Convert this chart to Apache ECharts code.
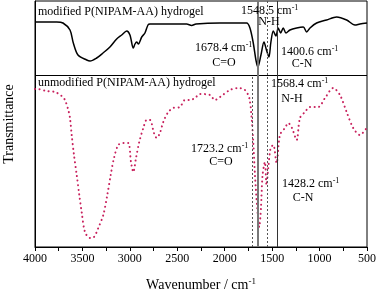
<!DOCTYPE html>
<html><head><meta charset="utf-8">
<script src="https://cdn.jsdelivr.net/npm/echarts@6/dist/echarts.min.js"></script>
<style>html,body{margin:0;padding:0;background:#fff}#c{width:380px;height:291px}</style>
</head><body><div id="c"></div>
<script>
// modified hydrogel (top spectrum): wavenumber / transmittance (arb.)
const wnTop = [4000,3771,3705,3631,3596,3547,3455,3420,3350,3283,3210,3139,3086,3033,2999,2964,2946,2928,2910,2875,2841,2809,2788,2600,2401,2349,2303,2050,1769,1734,1699,1671,1650,1618,1586,1560,1534,1513,1488,1460,1436,1410,1383,1354,1312,1242,1172,1136,1101,1031,926,820,715,627,575,500];
const tTop  = [225,225,224,217,204,192,187,186,189,194,200,208,212,216,212,199,203,205,203,210,214,222,223,223,223,221.5,223,224,224,219,204,187,180,192,205,197,190,205,216,211,219,214,219,214,217,219,220,215,219,224,227,230,227,222,223,224];
// unmodified hydrogel (bottom spectrum)
const wnBot = [4000,3982,3877,3789,3719,3684,3649,3631,3613,3589,3560,3533,3508,3473,3420,3378,3333,3280,3238,3202,3167,3122,3069,3017,2988,2964,2935,2901,2858,2823,2788,2746,2717,2683,2648,2595,2542,2472,2419,2366,2314,2261,2156,2103,2050,1945,1857,1787,1741,1716,1699,1681,1657,1636,1618,1601,1576,1559,1541,1516,1488,1453,1418,1365,1330,1291,1242,1207,1154,1101,1014,943,856,785,715,645,575,504];
const tBot  = [158,158,156,155,151,147,137,129,112,92,72,52,35,15,9,10,19,32,52,72,89,102,104,104,85,75,89,105,119,127,127,114,109,114,125,135,139,140,147,147,149,153,152,147,150,157,159,157,149,129,105,72,39,20,39,72,85,62,79,99,102,84,112,119,124,119,107,129,135,140,140,149,159,152,135,119,112,119];
// reference lines
const fullLinesSolid = [1652, 1450];
const fullLineDotted = [1550];
const bottomLineDotted = [1705];
const panelDivider = 172;
const xTicks = {min: 500, max: 4000, interval: 500};

const serif = 'Liberation Serif';
const chart = echarts.init(document.getElementById('c'), null, {renderer: 'canvas'});
const pairs = (xs, ys) => xs.map((x, i) => [x, ys[i]]);

const sup = {a: {fontFamily: serif, fontSize: 12, color: '#000'}, s: {fontFamily: serif, fontSize: 8, color: '#000', padding: [0,0,7,0]}};
function txt(x, y, text, align) {
  return {type: 'text', x: x, y: y, z: 100, style: {text: text, rich: sup, font: '12px ' + serif, fill: '#000', align: align || 'left', verticalAlign: 'middle'}};
}

chart.setOption({
  animation: false,
  grid: {left: 35, right: 13, top: 1, bottom: 44, show: true, borderColor: '#000', borderWidth: 1, outerBoundsMode: 'none'},
  xAxis: {
    type: 'value', inverse: true, min: xTicks.min, max: xTicks.max, interval: xTicks.interval,
    axisLine: {show: true, lineStyle: {color: '#000'}},
    axisTick: {show: true, length: 4, lineStyle: {color: '#000', width: 1}},
    minorTick: {show: true, splitNumber: 2, length: 4, lineStyle: {color: '#000', width: 1}},
    splitLine: {show: false},
    axisLabel: {fontFamily: serif, fontSize: 12, color: '#000', margin: 6, formatter: v => String(v)},
    name: '{a|Wavenumber / cm}{s|-1}', nameLocation: 'middle', nameGap: 30,
    nameTextStyle: {rich: {a: {fontFamily: serif, fontSize: 14, color: '#000'}, s: {fontFamily: serif, fontSize: 9, color: '#000', padding: [0,0,8,0]}}}
  },
  yAxis: {
    type: 'value', min: 0, max: 246,
    axisLine: {show: true, lineStyle: {color: '#000'}}, axisTick: {show: false}, axisLabel: {show: false}, splitLine: {show: false},
    name: 'Transmittance', nameLocation: 'middle', nameGap: 19,
    nameTextStyle: {fontFamily: serif, fontSize: 14, color: '#000'}
  },
  series: [
    {type: 'line', data: pairs(wnTop, tTop), showSymbol: false, smooth: 0.3, lineStyle: {color: '#000', width: 1.5}, z: 3},
    {type: 'line', data: pairs(wnBot, tBot), showSymbol: false, smooth: 0.3, lineStyle: {color: '#c8215d', width: 2, type: [0.1, 4.5], cap: 'round'}, z: 3},
    {type: 'line', data: [], markLine: {silent: true, symbol: 'none', label: {show: false},
      data: [
        {yAxis: panelDivider, lineStyle: {color: '#000', width: 1, type: 'solid'}},
        {xAxis: fullLinesSolid[0], lineStyle: {color: '#777', width: 2, type: 'solid'}},
        {xAxis: fullLinesSolid[1], lineStyle: {color: '#333', width: 1, type: 'solid'}},
        {xAxis: fullLineDotted[0], lineStyle: {color: '#555', width: 1, type: [2, 2]}},
        [{coord: [bottomLineDotted[0], 0], lineStyle: {color: '#555', width: 1, type: [2, 2]}}, {coord: [bottomLineDotted[0], panelDivider]}]
      ]}, z: 2}
  ],
  graphic: [
    txt(38, 12, 'modified P(NIPAM-AA) hydrogel'),
    txt(241, 11, '{a|1548.5 cm}{s|-1}'),
    txt(269, 22, 'N-H', 'center'),
    txt(195, 48, '{a|1678.4 cm}{s|-1}'),
    txt(224, 63, 'C=O', 'center'),
    txt(281, 52, '{a|1400.6 cm}{s|-1}'),
    txt(302, 64, 'C-N', 'center'),
    txt(38, 83, 'unmodified P(NIPAM-AA) hydrogel'),
    txt(271, 84, '{a|1568.4 cm}{s|-1}'),
    txt(292, 99, 'N-H', 'center'),
    txt(191, 149, '{a|1723.2 cm}{s|-1}'),
    txt(221, 162, 'C=O', 'center'),
    txt(282, 184, '{a|1428.2 cm}{s|-1}'),
    txt(303, 198, 'C-N', 'center')
  ]
});
</script></body></html>
